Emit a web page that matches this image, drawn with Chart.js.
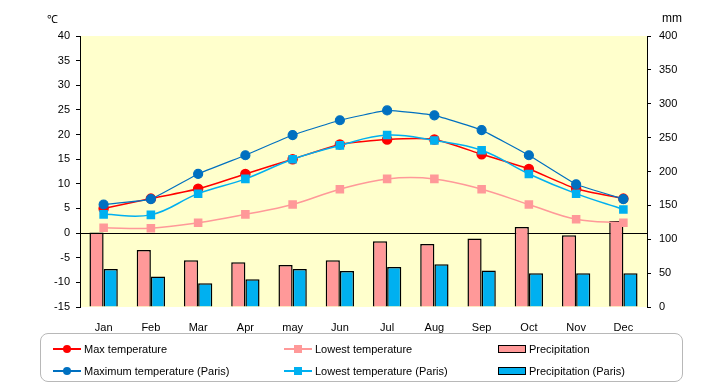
<!DOCTYPE html>
<html>
<head>
<meta charset="utf-8">
<script src="https://cdn.jsdelivr.net/npm/chart.js@4.4.1/dist/chart.umd.min.js"></script>
<style>
    html, body { margin: 0; padding: 0; background: #fff; }
    #wrap { position: relative; width: 720px; height: 385px; font-family: 'Liberation Sans', Arial, sans-serif; }
    canvas { position: absolute; left: 0; top: 0; }
    .unit { position: absolute; font-size: 11px; color: #000; }
    #legend {
        position: absolute; left: 40px; top: 333px; width: 643px; height: 49px;
        border: 1px solid #b8b8b8; border-radius: 8px; box-sizing: border-box;
    }
    .item { position: absolute; font-size: 11px; line-height: 14px; display: flex; align-items: center; white-space: nowrap; }
    .mark { position: relative; width: 28px; height: 14px; margin-right: 3px; }
    .mark .ln { position: absolute; left: 0; right: 0; top: 6px; height: 2px; }
    .mark .pt { position: absolute; left: 10px; top: 3px; width: 8px; height: 8px; }
    .mark .sw { position: absolute; left: 0; right: 0; top: 3px; height: 6px; border: 1.5px solid #000; }
</style>
</head>
<body>
<div id="wrap">
    <canvas id="climateChart" width="720" height="385"></canvas>
    <div class="unit" style="left:47px; top:11px;">℃</div>
    <div class="unit" style="left:662px; top:11px; font-size:12px;">mm</div>
    <div id="legend"></div>
</div>
<script>
// categories
const months = ['Jan', 'Feb', 'Mar', 'Apr', 'may', 'Jun', 'Jul', 'Aug', 'Sep', 'Oct', 'Nov', 'Dec'];

// temperatures (left axis, ℃)
const maxTemp = [5, 7, 9, 12, 15, 18, 19, 19, 16, 13, 9, 7];
const lowTemp = [1.1, 1.0, 2.1, 3.8, 5.8, 8.9, 11, 11, 8.9, 5.8, 2.8, 2.1];
const maxTempParis = [5.8, 6.9, 12, 15.8, 19.9, 22.9, 24.9, 23.9, 20.9, 15.8, 9.9, 6.9];
const lowTempParis = [3.8, 3.7, 8, 11, 15, 17.8, 19.9, 18.8, 16.8, 12, 8, 4.8];

// precipitation (right axis, mm)
const precip = [110, 84, 69, 66, 62, 69, 97, 93, 101, 118, 106, 127];
const precipParis = [56, 45, 35, 41, 56, 53, 59, 63, 54, 50, 50, 50];

// axis ticks
const tempTicks = { min: -15, max: 40, step: 5 };
const rainTicks = { min: 0, max: 400, step: 50 };

const colors = {
    red: '#ff0000',
    pink: '#ff9999',
    navy: '#0070c0',
    sky: '#00b0f0',
    plotBg: '#ffffcc'
};

const plotBackground = {
    id: 'plotBackground',
    beforeDraw(chart) {
        const { ctx, chartArea: a } = chart;
        ctx.save();
        ctx.fillStyle = colors.plotBg;
        ctx.fillRect(a.left, a.top, a.right - a.left, a.bottom - a.top);
        ctx.restore();
    }
};

const tickFont = { family: "'Liberation Sans', Arial, sans-serif", size: 11 };

const chart = new Chart(document.getElementById('climateChart'), {
    data: {
        labels: months,
        datasets: [
            {
                type: 'line', label: 'Max temperature', data: maxTemp, yAxisID: 'y',
                borderColor: colors.red, backgroundColor: colors.red, borderWidth: 1.5,
                pointStyle: 'circle', pointRadius: 4.5, tension: 0.2, order: 1
            },
            {
                type: 'line', label: 'Lowest temperature', data: lowTemp, yAxisID: 'y',
                borderColor: colors.pink, backgroundColor: colors.pink, borderWidth: 1.5,
                pointStyle: 'rect', pointRadius: 5, tension: 0.4, order: 1
            },
            {
                type: 'bar', label: 'Precipitation', data: precip, yAxisID: 'y1',
                backgroundColor: colors.pink, borderColor: '#000', borderWidth: 1.5,
                categoryPercentage: 0.6, barPercentage: 1.0, order: 3
            },
            {
                type: 'line', label: 'Maximum temperature (Paris)', data: maxTempParis, yAxisID: 'y',
                borderColor: colors.navy, backgroundColor: colors.navy, borderWidth: 1.2,
                pointStyle: 'circle', pointRadius: 4.5, tension: 0.1, order: 0
            },
            {
                type: 'line', label: 'Lowest temperature (Paris)', data: lowTempParis, yAxisID: 'y',
                borderColor: colors.sky, backgroundColor: colors.sky, borderWidth: 1.5,
                pointStyle: 'rect', pointRadius: 5, tension: 0.4, order: 0
            },
            {
                type: 'bar', label: 'Precipitation (Paris)', data: precipParis, yAxisID: 'y1',
                backgroundColor: colors.sky, borderColor: '#000', borderWidth: 1.5,
                categoryPercentage: 0.6, barPercentage: 1.0, order: 3
            }
        ]
    },
    options: {
        responsive: false,
        animation: false,
        layout: { padding: { left: 40, right: 33, top: 36, bottom: 48 } },
        plugins: {
            legend: { display: false },
            tooltip: { enabled: false }
        },
        scales: {
            x: {
                grid: { display: false },
                border: { display: false },
                ticks: { color: '#000', font: tickFont, padding: 6, maxRotation: 0 },
                afterFit: s => { s.height = 30; }
            },
            y: {
                position: 'left',
                min: tempTicks.min, max: tempTicks.max,
                grid: {
                    color: c => c.tick && c.tick.value === 0 ? '#000' : 'transparent',
                    tickColor: '#000', tickLength: 4, lineWidth: 1
                },
                border: { color: '#000', width: 1 },
                ticks: { stepSize: tempTicks.step, color: '#000', font: tickFont, padding: 6 },
                afterFit: s => { s.width = 40; }
            },
            y1: {
                position: 'right',
                min: rainTicks.min, max: rainTicks.max,
                grid: { drawOnChartArea: false, tickColor: '#000', tickLength: 4 },
                border: { color: '#000', width: 1 },
                ticks: { stepSize: rainTicks.step, color: '#000', font: tickFont, padding: 8 },
                afterFit: s => { s.width = 40; }
            }
        }
    },
    plugins: [plotBackground]
});

// legend laid out in three columns, two rows
const legendSlots = [
    { idx: 0, left: 12, top: 8 },
    { idx: 1, left: 243, top: 8 },
    { idx: 2, left: 457, top: 8 },
    { idx: 3, left: 12, top: 30 },
    { idx: 4, left: 243, top: 30 },
    { idx: 5, left: 457, top: 30 }
];
const legendEl = document.getElementById('legend');
legendSlots.forEach(slot => {
    const ds = chart.data.datasets[slot.idx];
    const item = document.createElement('div');
    item.className = 'item';
    item.style.left = slot.left + 'px';
    item.style.top = slot.top + 'px';
    const mark = document.createElement('span');
    mark.className = 'mark';
    if (ds.type === 'bar') {
        mark.innerHTML = `<span class="sw" style="background:${ds.backgroundColor}"></span>`;
    } else {
        const round = ds.pointStyle === 'circle' ? 'border-radius:50%;' : '';
        mark.innerHTML = `<span class="ln" style="background:${ds.borderColor}"></span>` +
            `<span class="pt" style="background:${ds.backgroundColor};${round}"></span>`;
    }
    const text = document.createElement('span');
    text.textContent = ds.label;
    item.appendChild(mark);
    item.appendChild(text);
    legendEl.appendChild(item);
});
</script>
</body>
</html>
